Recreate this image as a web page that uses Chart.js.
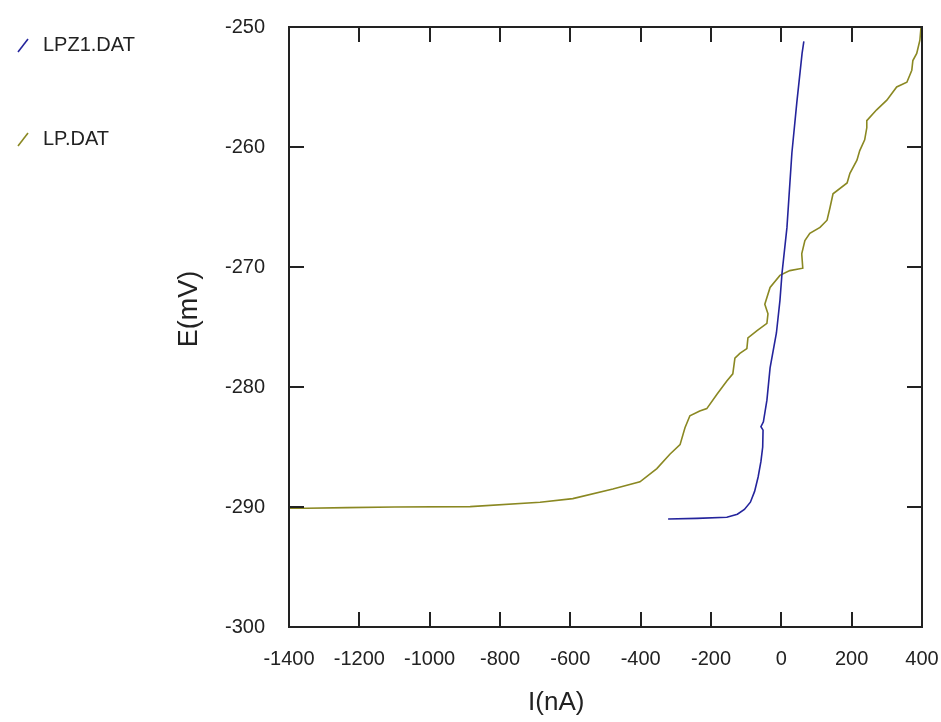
<!DOCTYPE html>
<html>
<head>
<meta charset="utf-8">
<script src="https://cdn.jsdelivr.net/npm/chart.js@4/dist/chart.umd.min.js"></script>
<style>
html,body{margin:0;padding:0;background:#fff;}
#wrap{position:relative;width:941px;height:722px;overflow:hidden;}
canvas{display:block;}
.leg{position:absolute;left:0;height:24px;line-height:24px;font:20px "Liberation Sans",Arial,sans-serif;color:#222;white-space:nowrap;}
.leg svg{position:absolute;left:16px;top:4px;}
.leg span{position:absolute;left:43px;top:0;}
</style>
</head>
<body>
<div id="wrap"><canvas id="c" width="941" height="722"></canvas><div id="legend"></div></div>
<script>
// ---- data ----
const seriesNames = ['LPZ1.DAT', 'LP.DAT'];
const seriesColors = ['#24249c', '#8a8822'];

const lpz1I = [-322, -240, -155, -125, -105, -88, -76, -66, -58, -53, -52, -58, -51, -41, -32, -14, -4, 2, 16, 30, 44, 59, 64];
const lpz1E = [-291.0, -290.95, -290.85, -290.6, -290.2, -289.6, -288.7, -287.5, -286.2, -285.0, -283.6, -283.3, -282.9, -281.1, -278.4, -275.5, -272.8, -270.5, -266.7, -260.5, -256.3, -252.2, -251.2];

const lpI = [-1400, -1350, -1235, -1100, -885, -686, -593, -479, -402, -354, -317, -288, -274, -260, -232, -212, -183, -155, -138, -132, -118, -98, -95, -69, -41, -38, -47, -32, -4, 24, 61, 58, 67, 81, 110, 130, 138, 147, 187, 195, 215, 223, 237, 243, 243, 271, 300, 328, 357, 371, 374, 385, 394, 397, 404];
const lpE = [-290.1, -290.1, -290.05, -290.0, -289.97, -289.6, -289.3, -288.5, -287.9, -286.8, -285.6, -284.8, -283.4, -282.4, -282.0, -281.8, -280.6, -279.5, -278.9, -277.6, -277.2, -276.8, -275.9, -275.3, -274.7, -273.9, -273.1, -271.7, -270.7, -270.3, -270.1, -268.9, -267.8, -267.2, -266.7, -266.1, -265.1, -263.9, -263.0, -262.2, -261.1, -260.3, -259.4, -258.4, -257.8, -256.9, -256.1, -255.0, -254.6, -253.6, -252.8, -252.2, -251.1, -250.1, -249.0];

const xTickValues = [-1400, -1200, -1000, -800, -600, -400, -200, 0, 200, 400];
const yTickValues = [-300, -290, -280, -270, -260, -250];
const xTitle = 'I(nA)';
const yTitle = 'E(mV)';
const xTitleAtValue = -640;   // x-axis title centre, in data units
const yTitleAtValue = -273.5; // y-axis title centre, in data units

// ---- chart ----
const FONT = '"Liberation Sans", Arial, sans-serif';
const INK = '#222';

function pts(xs, ys) { return xs.map((v, i) => ({ x: v, y: ys[i] })); }

const framePlugin = {
  id: 'frame',
  afterDatasetsDraw(chart) {
    const { ctx, chartArea: a, scales: { x, y } } = chart;
    const L = 15;
    ctx.save();
    ctx.strokeStyle = INK;
    ctx.lineWidth = 2;
    ctx.strokeRect(a.left, a.top, a.right - a.left, a.bottom - a.top);
    ctx.beginPath();
    x.ticks.forEach(t => {
      const p = Math.round(x.getPixelForValue(t.value));
      ctx.moveTo(p, a.bottom); ctx.lineTo(p, a.bottom - L);
      ctx.moveTo(p, a.top); ctx.lineTo(p, a.top + L);
    });
    y.ticks.forEach(t => {
      const p = Math.round(y.getPixelForValue(t.value));
      ctx.moveTo(a.left, p); ctx.lineTo(a.left + L, p);
      ctx.moveTo(a.right, p); ctx.lineTo(a.right - L, p);
    });
    ctx.stroke();
    // axis titles
    ctx.fillStyle = INK;
    ctx.textAlign = 'center';
    ctx.textBaseline = 'middle';
    ctx.font = '26px ' + FONT;
    ctx.fillText(xTitle, x.getPixelForValue(xTitleAtValue), x.bottom - 19);
    ctx.save();
    ctx.translate(y.left + 17, y.getPixelForValue(yTitleAtValue));
    ctx.rotate(-Math.PI / 2);
    ctx.font = '27px ' + FONT;
    ctx.fillText(yTitle, 0, 0);
    ctx.restore();
    ctx.restore();
  }
};

new Chart(document.getElementById('c'), {
  type: 'scatter',
  data: {
    datasets: [
      { label: seriesNames[0], data: pts(lpz1I, lpz1E), borderColor: seriesColors[0], backgroundColor: seriesColors[0] },
      { label: seriesNames[1], data: pts(lpI, lpE), borderColor: seriesColors[1], backgroundColor: seriesColors[1] }
    ].map(d => Object.assign(d, { showLine: true, pointRadius: 0, borderWidth: 1.6, tension: 0 }))
  },
  options: {
    responsive: false,
    animation: false,
    devicePixelRatio: 1,
    layout: { padding: { left: 173, right: 19, top: 27, bottom: 0 } },
    plugins: { legend: { display: false }, tooltip: { enabled: false } },
    scales: {
      x: {
        type: 'linear', min: xTickValues[0], max: xTickValues[xTickValues.length - 1],
        afterBuildTicks: s => { s.ticks = xTickValues.map(v => ({ value: v })); },
        afterFit: s => { s.height = 95; s.paddingLeft = 0; s.paddingRight = 0; },
        grid: { display: false },
        border: { display: false },
        ticks: { font: { family: FONT, size: 20 }, color: INK, padding: 12, maxRotation: 0, autoSkip: false, callback: v => String(v) },
        title: { display: false }
      },
      y: {
        type: 'linear', min: yTickValues[0], max: yTickValues[yTickValues.length - 1],
        afterBuildTicks: s => { s.ticks = yTickValues.map(v => ({ value: v })); },
        afterFit: s => { s.width = 116; s.paddingTop = 0; s.paddingBottom = 0; },
        grid: { display: false },
        border: { display: false },
        ticks: { font: { family: FONT, size: 20 }, color: INK, padding: 16, autoSkip: false, callback: v => String(v) },
        title: { display: false }
      }
    }
  },
  plugins: [framePlugin]
});

// ---- legend (HTML text) ----
const legendTops = [33, 127];
const legend = document.getElementById('legend');
seriesNames.forEach((name, i) => {
  const d = document.createElement('div');
  d.className = 'leg';
  d.style.top = legendTops[i] + 'px';
  d.innerHTML = '<svg width="14" height="16"><line x1="2" y1="15" x2="12" y2="2" stroke="' + seriesColors[i] + '" stroke-width="1.6"/></svg><span></span>';
  d.querySelector('span').textContent = name;
  legend.appendChild(d);
});
</script>
</body>
</html>
